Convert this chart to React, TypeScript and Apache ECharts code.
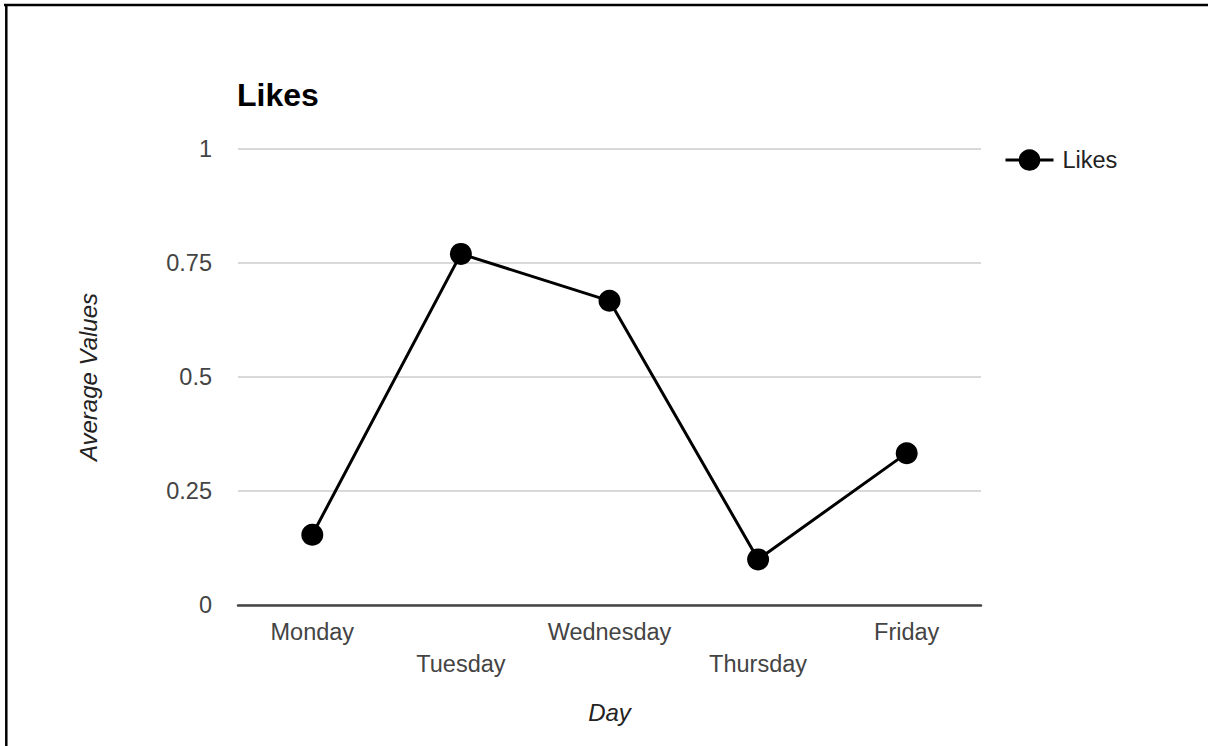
import React, { useEffect, useRef } from "react";
import * as echarts from "echarts";

const days = ["Monday", "Tuesday", "Wednesday", "Thursday", "Friday"];
const likes = [0.154, 0.77, 0.667, 0.1, 0.333];
const yTicks = { min: 0, max: 1, interval: 0.25 };

const FONT = "'Liberation Sans', Arial, sans-serif";

export default function App() {
  const ref = useRef<HTMLDivElement>(null);

  useEffect(() => {
    if (!ref.current) return;
    const chart = echarts.init(ref.current, null, { renderer: "svg" });
    chart.setOption({
      animation: false,
      backgroundColor: "#ffffff",
      textStyle: { fontFamily: FONT },
      title: {
        text: "Likes",
        left: 237,
        top: 79,
        padding: 0,
        textStyle: { fontFamily: FONT, fontSize: 32, fontWeight: "bold", color: "#000" },
      },
      legend: {
        left: 1004,
        top: 148,
        padding: 0,
        itemWidth: 48,
        itemHeight: 27,
        itemGap: 10,
        data: ["Likes"],
        lineStyle: { color: "#000", width: 3 },
        itemStyle: { color: "#000" },
        textStyle: { fontFamily: FONT, fontSize: 23.5, color: "#222", padding: [0, 0, 0, 4] },
      },
      grid: { left: 238, top: 149, width: 743, height: 456, containLabel: false },
      xAxis: {
        type: "category",
        data: days,
        boundaryGap: true,
        name: "Day",
        nameLocation: "middle",
        nameGap: 95,
        nameTextStyle: { fontFamily: FONT, fontSize: 24, fontStyle: "italic", color: "#222" },
        axisLine: { show: true, lineStyle: { color: "#444", width: 2.5 } },
        axisTick: { show: false },
        axisLabel: {
          interval: 0,
          margin: 11,
          fontFamily: FONT,
          fontSize: 23.5,
          color: "#444",
          lineHeight: 32,
          formatter: (v: string, i: number) => (i % 2 === 1 ? "\n" + v : v),
        },
        splitLine: { show: false },
      },
      yAxis: {
        type: "value",
        min: yTicks.min,
        max: yTicks.max,
        interval: yTicks.interval,
        name: "Average Values",
        nameLocation: "middle",
        nameGap: 138,
        nameTextStyle: { fontFamily: FONT, fontSize: 24, fontStyle: "italic", color: "#222" },
        axisLine: { show: false },
        axisTick: { show: false },
        axisLabel: { margin: 26, fontFamily: FONT, fontSize: 23.5, color: "#444" },
        splitLine: { show: true, lineStyle: { color: "#cccccc", width: 1.5 } },
      },
      series: [
        {
          name: "Likes",
          type: "line",
          data: likes,
          symbol: "circle",
          symbolSize: 22,
          showAllSymbol: true,
          lineStyle: { color: "#000", width: 3 },
          itemStyle: { color: "#000" },
          z: 3,
        },
      ],
      graphic: [
        {
          type: "line",
          shape: { x1: 4, y1: 5, x2: 1208, y2: 5 },
          style: { stroke: "#000", lineWidth: 2.5 },
        },
        {
          type: "line",
          shape: { x1: 6.3, y1: 4, x2: 6.3, y2: 746 },
          style: { stroke: "#000", lineWidth: 2.5 },
        },
      ],
    });
    return () => chart.dispose();
  }, []);

  return (
    <div
      ref={ref}
      style={{ position: "absolute", left: 0, top: 0, width: 1208, height: 746, background: "#fff" }}
    />
  );
}
